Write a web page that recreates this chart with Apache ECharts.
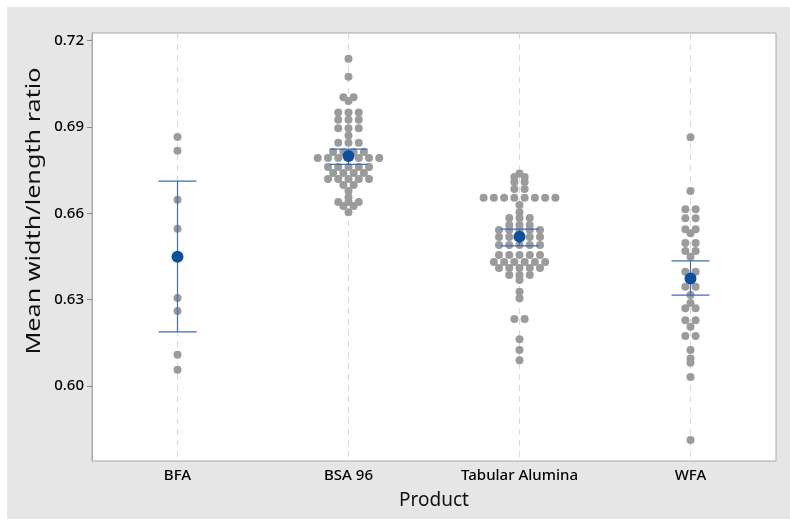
<!DOCTYPE html>
<html>
<head>
<meta charset="utf-8">
<script src="https://cdn.jsdelivr.net/npm/echarts@6/dist/echarts.min.js"></script>
<style>
  html, body { margin: 0; padding: 0; background: #fff; }
  #chart { width: 790px; height: 526px; }
</style>
</head>
<body>
<div id="chart"></div>
<script>
// Individual value plot: Mean width/length ratio by Product, with mean and 95% CI

const categories = ['BFA', 'BSA 96', 'Tabular Alumina', 'WFA'];

const bfa = [0.6865, 0.6817, 0.6647, 0.6546, 0.6306, 0.6261, 0.6109, 0.6057];

const bsa96 = [
  0.7137, 0.7074,
  0.7003, 0.7003, 0.6990,
  0.6950, 0.6950, 0.6950,
  0.6925, 0.6925, 0.6925,
  0.6895, 0.6895, 0.6895,
  0.6870,
  0.6845, 0.6845, 0.6845,
  0.6813, 0.6813, 0.6813, 0.6813,
  0.6792, 0.6792, 0.6792, 0.6792, 0.6792, 0.6792, 0.6792,
  0.6761, 0.6761, 0.6761, 0.6761, 0.6761,
  0.6740, 0.6740, 0.6740, 0.6740,
  0.6719, 0.6719, 0.6719, 0.6719, 0.6719,
  0.6698, 0.6698,
  0.6677,
  0.6656,
  0.6639, 0.6639, 0.6639,
  0.6625, 0.6625,
  0.6604
];

const tabularAlumina = [
  0.6738,
  0.6726, 0.6726,
  0.6709, 0.6709,
  0.6684, 0.6684,
  0.6654, 0.6654, 0.6654, 0.6654, 0.6654, 0.6654, 0.6654, 0.6654,
  0.6629,
  0.6604,
  0.6584, 0.6584, 0.6584,
  0.6559, 0.6559, 0.6559,
  0.6542, 0.6542, 0.6542, 0.6542, 0.6542,
  0.6518, 0.6518, 0.6518, 0.6518, 0.6518,
  0.6490, 0.6490, 0.6490, 0.6490, 0.6490,
  0.6455, 0.6455, 0.6455, 0.6455, 0.6455,
  0.6431, 0.6431, 0.6431, 0.6431, 0.6431, 0.6431,
  0.6410, 0.6410, 0.6410, 0.6410, 0.6410,
  0.6386, 0.6386, 0.6386,
  0.6368,
  0.6328,
  0.6305,
  0.6233, 0.6233,
  0.6163,
  0.6125,
  0.6090
];

const wfa = [
  0.6864,
  0.6677,
  0.6614, 0.6614,
  0.6583, 0.6583,
  0.6545, 0.6545,
  0.6531,
  0.6497, 0.6497,
  0.6469, 0.6469,
  0.6449,
  0.6397, 0.6397,
  0.6345, 0.6345,
  0.6316,
  0.6289,
  0.6270, 0.6270,
  0.6229, 0.6229,
  0.6206,
  0.6174, 0.6174,
  0.6125,
  0.6096,
  0.6081,
  0.6032,
  0.5813
];

// Group means and 95% confidence interval limits
const means  = [0.6449, 0.6799, 0.6519, 0.6374];
const ciLow  = [0.6188, 0.6770, 0.6487, 0.6316];
const ciHigh = [0.6712, 0.6823, 0.6545, 0.6435];

const yTicks = [0.60, 0.63, 0.66, 0.69, 0.72];
const yTitle = 'Mean width/length ratio';

const groups = [bfa, bsa96, tabularAlumina, wfa];

// Tied values are spread side by side around the category centre
const DOT_STEP = 0.06; // horizontal step between tied dots, in category units
const points = [];
groups.forEach((vals, g) => {
  const counts = {};
  vals.forEach(v => { const k = v.toFixed(4); counts[k] = (counts[k] || 0) + 1; });
  const seen = {};
  vals.forEach(v => {
    const k = v.toFixed(4);
    const i = seen[k] || 0;
    seen[k] = i + 1;
    const n = counts[k];
    points.push([g + (i - (n - 1) / 2) * DOT_STEP, v]);
  });
});

const ciData = categories.map((c, i) => [i, ciLow[i], ciHigh[i]]);
const meanData = categories.map((c, i) => [i, means[i]]);
const guideData = categories.map((c, i) => [i]);

const FONT = 'Noto Sans';
const chart = echarts.init(document.getElementById('chart'), null, { renderer: 'canvas' });

chart.setOption({
  backgroundColor: '#ffffff',
  animation: false,
  graphic: [{
    type: 'rect',
    z: -10,
    shape: { x: 7, y: 7, width: 783, height: 512 },
    style: { fill: '#e6e6e6' }
  }, {
    // vertical axis title
    type: 'text',
    x: 34,
    y: 211,
    rotation: Math.PI / 2,
    scaleX: 1.26,
    scaleY: 1,
    z: 10,
    style: {
      text: yTitle,
      font: '20px "Noto Sans"',
      fill: '#111',
      textAlign: 'center',
      textVerticalAlign: 'middle'
    }
  }],
  grid: {
    left: 92, right: 14, top: 33, bottom: 65,
    show: true,
    backgroundColor: '#ffffff',
    borderColor: '#a9a9a9',
    borderWidth: 1
  },
  xAxis: [{
    type: 'category',
    data: categories,
    boundaryGap: true,
    position: 'bottom',
    name: 'Product',
    nameLocation: 'middle',
    nameGap: 30,
    nameTextStyle: { fontFamily: FONT, fontSize: 19, color: '#111' },
    axisLine: { show: false },
    axisTick: { show: false },
    axisLabel: { fontFamily: FONT, fontSize: 15, fontWeight: 500, color: '#000', margin: 7 },
    splitLine: { show: false }
  }, {
    type: 'value',
    min: -0.5,
    max: 3.5,
    show: false
  }],
  yAxis: {
    type: 'value',
    position: 'left',
    min: 0.5740,
    max: 0.7226,
    axisLine: { show: true, onZero: false, lineStyle: { color: '#a9a9a9', width: 1 } },
    axisTick: {
      show: true, inside: false, length: 5,
      customValues: yTicks,
      lineStyle: { color: '#8a8a8a', width: 1 }
    },
    axisLabel: {
      fontFamily: FONT, fontSize: 15, fontWeight: 500, color: '#000', margin: 8,
      customValues: yTicks,
      formatter: v => v.toFixed(2)
    },
    splitLine: { show: false }
  },
  series: [{
    // dashed guide lines through each category
    type: 'custom',
    xAxisIndex: 1,
    data: guideData,
    silent: true,
    z: 1,
    renderItem: (params, api) => {
      const top = api.coord([api.value(0), 0.7226]);
      const bottom = api.coord([api.value(0), 0.5740]);
      return {
        type: 'line',
        shape: { x1: top[0], y1: top[1], x2: bottom[0], y2: bottom[1] },
        style: { stroke: '#d9d9d9', lineWidth: 1, lineDash: [6, 5] }
      };
    }
  }, {
    type: 'scatter',
    xAxisIndex: 1,
    data: points,
    symbol: 'circle',
    symbolSize: 8,
    itemStyle: { color: '#9b9b9b', opacity: 1 },
    z: 3
  }, {
    type: 'custom',
    xAxisIndex: 1,
    data: ciData,
    z: 4,
    renderItem: (params, api) => {
      const x = api.value(0);
      const lo = api.coord([x, api.value(1)]);
      const hi = api.coord([x, api.value(2)]);
      const half = 19;
      const stroke = '#3d6db3';
      return {
        type: 'group',
        children: [
          { type: 'line', shape: { x1: lo[0], y1: lo[1], x2: hi[0], y2: hi[1] }, style: { stroke, lineWidth: 1.2 } },
          { type: 'line', shape: { x1: lo[0] - half, y1: lo[1], x2: lo[0] + half, y2: lo[1] }, style: { stroke, lineWidth: 1.3 } },
          { type: 'line', shape: { x1: hi[0] - half, y1: hi[1], x2: hi[0] + half, y2: hi[1] }, style: { stroke, lineWidth: 1.3 } }
        ]
      };
    }
  }, {
    type: 'scatter',
    xAxisIndex: 1,
    data: meanData,
    symbol: 'circle',
    symbolSize: 12,
    itemStyle: { color: '#0c4f9f', opacity: 1 },
    z: 5
  }]
});
</script>
</body>
</html>
